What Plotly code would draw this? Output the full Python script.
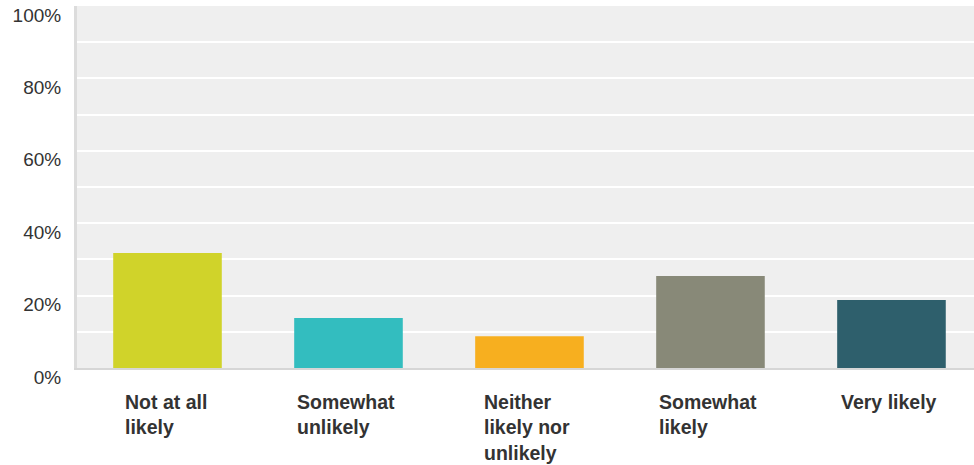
import plotly.graph_objects as go

categories = ["Not at all<br>likely", "Somewhat<br>unlikely", "Neither<br>likely nor<br>unlikely", "Somewhat<br>likely", "Very likely"]
values = [31.8, 13.8, 8.8, 25.4, 18.8]
colors = ["#D0D32A", "#33BDBF", "#F7AF1F", "#888978", "#2E5F6C"]
ytick_vals = [0, 20, 40, 60, 80, 100]
ytick_text = ["0%", "20%", "40%", "60%", "80%", "100%"]

xs = list(range(len(categories)))

fig = go.Figure()
fig.add_trace(go.Bar(
    x=xs, y=values, marker=dict(color=colors, line=dict(width=0)),
    width=0.6, hoverinfo="skip",
))

for x, lab in zip(xs, categories):
    fig.add_annotation(
        x=x, y=0, xref="x", yref="y", text="<b>" + lab + "</b>",
        showarrow=False, xanchor="center", yanchor="top", align="left",
        yshift=-21, xshift=-2,
        font=dict(family="Liberation Sans, Arial, sans-serif", size=19.5, color="#333333"),
    )

fig.update_layout(
    width=974, height=465,
    margin=dict(l=77, r=0, t=6, b=97, autoexpand=False),
    plot_bgcolor="#EFEFEF", paper_bgcolor="white",
    showlegend=False, bargap=0.4,
    font=dict(family="Liberation Sans, Arial, sans-serif", color="#333333"),
)
fig.update_xaxes(
    range=[-0.5, 4.456], showticklabels=False, showgrid=False, zeroline=False,
    showline=True, linecolor="#D6D6D6", linewidth=2, ticks="", automargin=False,
)
fig.update_yaxes(
    range=[0, 100], tickvals=ytick_vals, ticktext=ytick_text,
    showgrid=True, gridcolor="white", gridwidth=2, zeroline=False,
    minor=dict(dtick=10, showgrid=True, gridcolor="white", gridwidth=2),
    showline=True, linecolor="#DCDCDC", linewidth=3, ticks="", automargin=False,
    tickfont=dict(size=19, color="#333333"), ticklabelstandoff=9, ticklabelshift=9,
)

fig.write_html(
    "out.html",
    config={"displayModeBar": False},
    post_script="document.body.style.margin='0';document.body.style.overflow='hidden';",
)
